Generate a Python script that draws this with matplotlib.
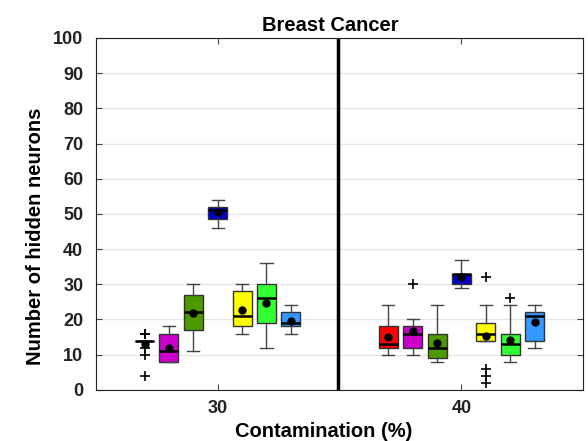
import numpy as np
import matplotlib
matplotlib.use('Agg')
import matplotlib.pyplot as plt

plt.rcParams['font.family'] = ['Liberation Sans', 'DejaVu Sans']
plt.rcParams['font.weight'] = 'bold'

# box statistics per model, two contamination levels
colors = ['#ff0000', '#cc00cc', '#4c9900', '#0000cc', '#ffff00', '#33ff33', '#3399ff']
levels = [30, 40]

# group 30
q1_30 = [14, 8, 17, 48.5, 18, 19, 18]
med_30 = [14, 11, 22, 51, 21, 26, 19]
q3_30 = [14, 16, 27, 52, 28, 30, 22]
lo_30 = [14, 8, 11, 46, 16, 12, 16]
hi_30 = [14, 18, 30, 54, 30, 36, 24]
mean_30 = [13.1, 12.0, 21.7, 50.4, 22.8, 24.8, 19.7]
fl_30 = [[16, 16, 12, 10, 4], [], [], [], [], [], []]

# group 40
q1_40 = [12, 12, 9, 30, 14, 10, 14]
med_40 = [13, 16, 12, 32.8, 16, 13, 21]
q3_40 = [18, 18, 16, 33, 19, 16, 22]
lo_40 = [10, 10, 8, 29, 14, 8, 12]
hi_40 = [24, 20, 24, 37, 24, 24, 24]
mean_40 = [15.1, 16.8, 13.3, 32.1, 15.2, 14.3, 19.2]
fl_40 = [[], [30], [], [], [32, 6, 4, 2], [26], []]


def make_stats(q1, med, q3, lo, hi, mean, fl):
    out = []
    for i in range(len(q1)):
        out.append(dict(q1=q1[i], med=med[i], q3=q3[i], whislo=lo[i],
                        whishi=hi[i], mean=mean[i], fliers=fl[i]))
    return out


fig, ax = plt.subplots(figsize=(5.88, 4.41), dpi=100)
fig.subplots_adjust(left=0.163, right=0.992, top=0.914, bottom=0.116)

groups = [make_stats(q1_30, med_30, q3_30, lo_30, hi_30, mean_30, fl_30),
          make_stats(q1_40, med_40, q3_40, lo_40, hi_40, mean_40, fl_40)]

for lev, stats in zip(levels, groups):
    pos = lev + np.arange(-3, 4)
    bp = ax.bxp(stats, positions=pos, widths=0.78, patch_artist=True,
                showmeans=True, showcaps=True, manage_ticks=False,
                boxprops=dict(edgecolor='#333333', linewidth=1.0),
                whiskerprops=dict(color='#444444', linewidth=1.0),
                capprops=dict(color='#444444', linewidth=1.0),
                medianprops=dict(color='black', linewidth=1.8),
                meanprops=dict(marker='o', markerfacecolor='black',
                               markeredgecolor='black', markersize=5),
                flierprops=dict(marker='+', markeredgecolor='black',
                                markersize=7, markeredgewidth=1.2))
    for patch, c in zip(bp['boxes'], colors):
        patch.set_facecolor(c)
    for cap in bp['caps']:
        x = cap.get_xdata()
        m = x.mean()
        cap.set_xdata([m - 0.25, m + 0.25])

ax.axvline(34.92, color='black', linewidth=2.5)

ax.set_xlim(25, 45)
ax.set_ylim(0, 100)
ax.set_xticks(levels)
ax.set_xticklabels([str(v) for v in levels])
ax.set_yticks(np.arange(0, 101, 10))
ax.yaxis.grid(True, color='#e6e6e6', linewidth=1.0)
ax.set_axisbelow(True)
ax.tick_params(direction='in', top=True, right=True, labelsize=13, length=4,
               color='#444444')
ax.tick_params(axis='y', pad=9)
ax.tick_params(axis='x', pad=7)
for lab in ax.get_xticklabels() + ax.get_yticklabels():
    lab.set_fontweight('bold')
    lab.set_color('#222222')
for s in ax.spines.values():
    s.set_color('#222222')

ax.set_title('Breast Cancer', fontsize=14.5, fontweight='bold', pad=5, x=0.48)
ax.set_xlabel('Contamination (%)', fontsize=14.5, fontweight='bold')
ax.set_ylabel('Number of hidden neurons', fontsize=14.5, fontweight='bold')
ax.xaxis.set_label_coords(0.468, -0.09)
ax.yaxis.set_label_coords(-0.105, 0.4375)

fig.savefig('out.png', dpi=100)
